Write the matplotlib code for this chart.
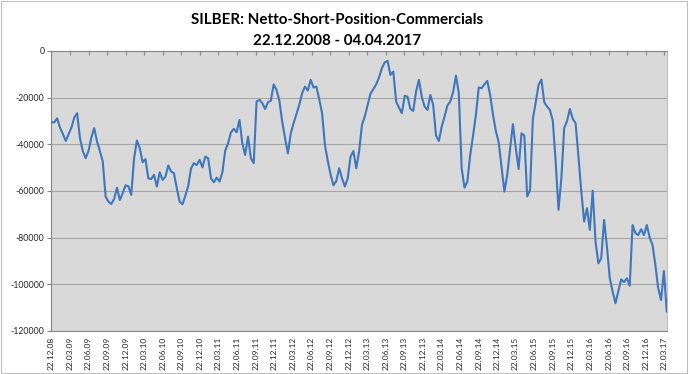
import matplotlib
matplotlib.use("Agg")
import matplotlib.pyplot as plt
import matplotlib.dates as mdates
import pandas as pd
from matplotlib.patches import Rectangle

title_line1 = "SILBER: Netto-Short-Position-Commercials"
title_line2 = "22.12.2008 - 04.04.2017"
start_date = "2008-12-22"
end_date = "2017-04-04"

values = [
    -30600, -30600, -28900, -32900, -35600, -38600, -35700, -32900, -28600, -26700,
    -37400, -42900, -46000, -42900, -37100, -33100, -38900, -42900, -47400, -62400,
    -64600, -65600, -63400, -58600, -63900, -61000, -57600, -58000, -61700, -46000,
    -38400, -41700, -47700, -46400, -54600, -54900, -53100,
    -58100, -52000, -55300, -53900, -49100, -51700, -52400, -58900, -64600, -65700,
    -62000, -57900, -50300, -48100, -48900, -46700, -49900, -45300, -46000, -54600,
    -56300, -54300, -56000, -52000, -42700, -39600, -34900, -33400, -34900, -29600,
    -39600, -44600, -36700, -46000, -48100, -21700,
    -21000, -22400, -24900, -22000, -21400, -14400, -16700, -21300, -30300, -37400,
    -43900, -35400, -31000, -27000, -23100, -18100, -15300, -17000, -12400, -15700,
    -15300, -20700, -26700, -40300, -47100, -53100, -57600, -55700, -50300, -54600,
    -58100, -54600, -45300, -42900, -50300, -43100,
    -31700, -28100, -23100, -18300, -16400, -14300, -11400, -7400, -4900, -4300,
    -10300, -8900, -21700, -24300, -26700, -19300, -19600, -24900, -25700, -17400,
    -12400, -19700, -23900, -25300, -18900, -23100, -36300, -38600, -32400, -28100,
    -23400, -21700, -17700, -10600, -18100, -50300,
    -58600, -56000, -44600, -36400, -27400, -15700, -16000, -14300, -12900, -18900,
    -27400, -34300, -39100, -49600, -60300, -53100, -42000, -31400, -41700, -50600,
    -35300, -36300, -62400, -59600, -29100, -22000, -14600, -12300, -22000, -23900,
    -25300, -30000, -47400, -68100, -54600, -33100,
    -30000, -24900, -29100, -31000, -45300, -60300, -73100, -67400, -76700, -59900,
    -81700, -91000, -88900, -72400, -83900, -97400, -103100, -108100, -103100, -97900,
    -99100, -97400, -100600, -74600, -78100, -78900, -76400, -78900, -74600, -80000,
    -83100, -91700, -101700, -106700, -94300, -111700,
]
dates = pd.date_range(start_date, periods=len(values), freq="14D")

y_ticks = [0, -20000, -40000, -60000, -80000, -100000, -120000]
y_tick_labels = [str(v) for v in y_ticks]
tick_dates = pd.date_range("2008-12-01", "2017-03-01", freq="3MS") + pd.Timedelta(days=21)

plt.rcParams["font.family"] = ["Lato", "DejaVu Sans"]

fig = plt.figure(figsize=(6.9, 3.74), dpi=100)
fig.patch.set_facecolor("white")
fig.patches.append(Rectangle((0.002, 0.004), 0.993, 0.992, transform=fig.transFigure,
                             fill=False, edgecolor="#BFBFBF", linewidth=0.8))

ax = fig.add_axes([0.0746, 0.115, 0.892, 0.749])
ax.set_facecolor("#D9D9D9")
ax.plot(dates, values, color="#3E77BD", linewidth=1.5, zorder=3)

ax.set_ylim(-120000, 0)
ax.set_yticks(y_ticks)
ax.set_yticklabels(y_tick_labels)
ax.set_xlim(pd.Timestamp(start_date), pd.Timestamp(end_date))
ax.set_xticks(tick_dates)
ax.xaxis.set_major_formatter(mdates.DateFormatter("%d.%m.%y"))

ax.grid(axis="y", color="#A6A6A6", linewidth=0.8, zorder=1)
ax.grid(axis="x", visible=False)
ax.set_axisbelow(True)

for side in ["left", "top", "bottom"]:
    ax.spines[side].set_color("#868686")
    ax.spines[side].set_linewidth(0.8)
ax.spines["right"].set_color("#BFBFBF")
ax.spines["right"].set_linewidth(0.8)

ax.tick_params(axis="y", direction="out", length=3, width=0.8, color="#868686",
               labelsize=6.3, labelcolor="#262626", pad=2)
ax.tick_params(axis="x", bottom=False, top=True, labelbottom=True, labeltop=False,
               direction="in", length=3, width=0.8, color="#868686",
               labelsize=6.0, labelcolor="#262626", pad=4)
for lbl in ax.get_xticklabels():
    lbl.set_rotation(90)

fig.text(0.489, 0.947, title_line1, ha="center", va="center", fontsize=10.9,
         fontweight="bold", color="black")
fig.text(0.489, 0.89, title_line2, ha="center", va="center", fontsize=10.9,
         fontweight="bold", color="black")

fig.savefig("out.png", dpi=100, facecolor="white")
